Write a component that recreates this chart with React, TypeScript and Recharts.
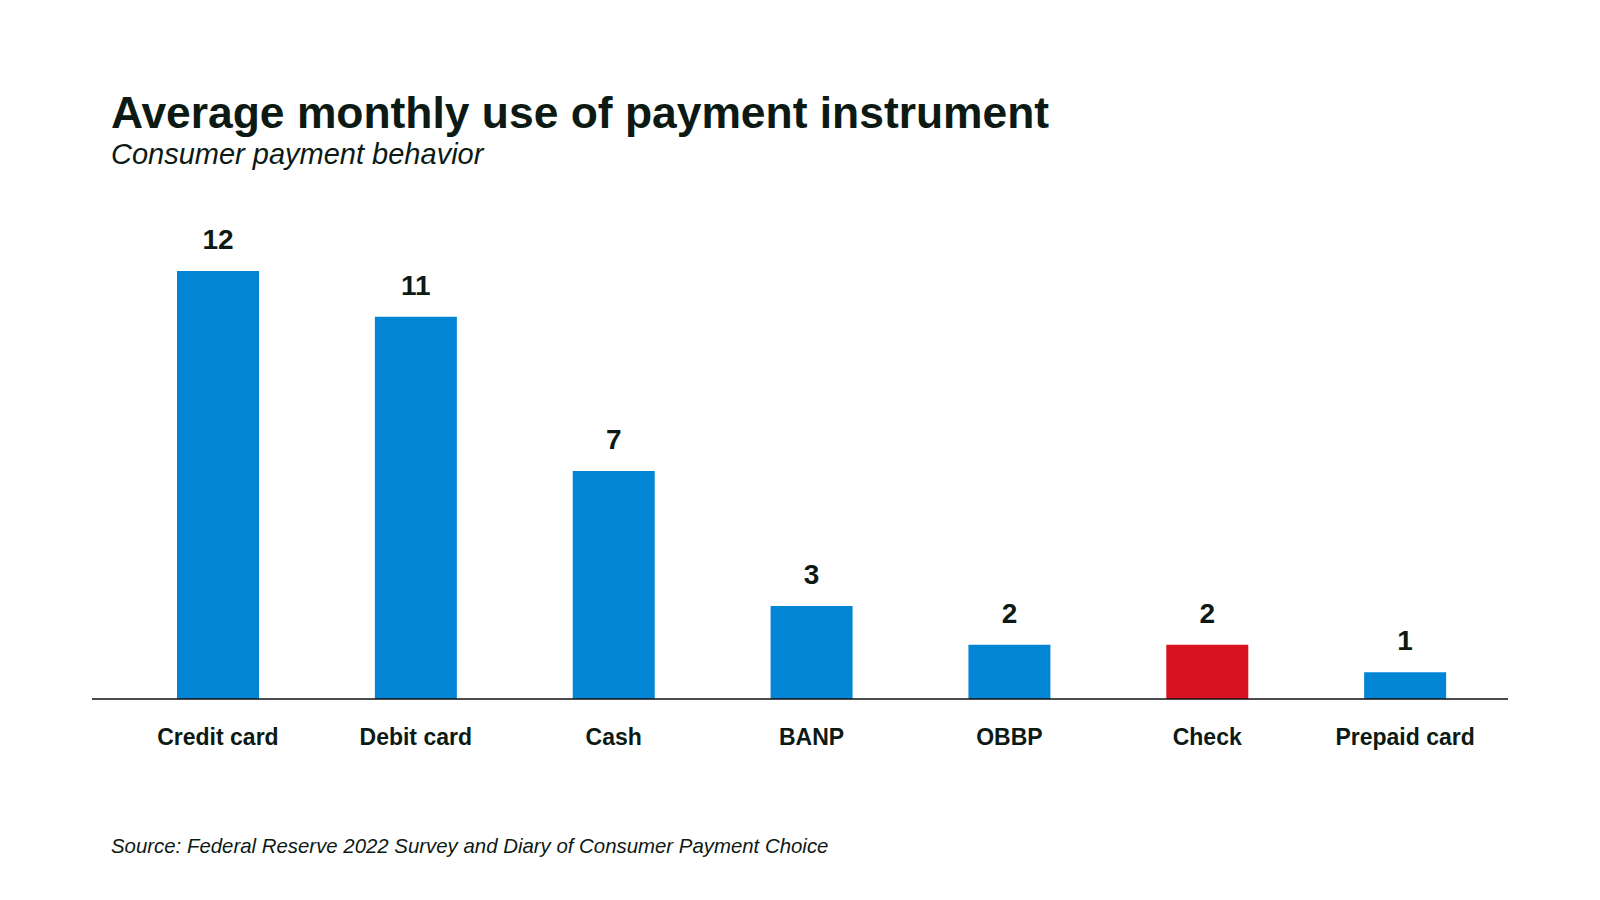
import { Bar, BarChart, Cell, LabelList, XAxis, YAxis } from "recharts";

const categories = ["Credit card", "Debit card", "Cash", "BANP", "OBBP", "Check", "Prepaid card"];
const monthlyUse = [12.2, 10.9, 6.5, 2.65, 1.55, 1.55, 0.76];
const highlighted = ["Check"];

const data = categories.map((name, i) => ({ name, value: monthlyUse[i] }));

const ink = "#0d1a14";
const font = "'Liberation Sans', Arial, sans-serif";

function CategoryTick({ x, y, payload }: any) {
  return (
    <text x={x} y={y} dy={46} textAnchor="middle" fontSize={23} fontWeight={700} fill={ink} fontFamily={font}>
      {payload.value}
    </text>
  );
}

export default function App() {
  return (
    <div style={{ position: "absolute", left: 0, top: 0, width: 1600, height: 900, background: "#fff", fontFamily: font, color: ink }}>
      <div style={{ position: "absolute", left: 111, top: 88, fontSize: 44.4, fontWeight: 700, whiteSpace: "nowrap", lineHeight: "normal" }}>
        Average monthly use of payment instrument
      </div>
      <div style={{ position: "absolute", left: 111, top: 138, fontSize: 29, fontStyle: "italic", whiteSpace: "nowrap" }}>
        Consumer payment behavior
      </div>
      <div style={{ position: "absolute", left: 111, top: 835, fontSize: 20.4, fontStyle: "italic", whiteSpace: "nowrap" }}>
        Source: Federal Reserve 2022 Survey and Diary of Consumer Payment Choice
      </div>
      <BarChart width={1600} height={900} data={data} margin={{ top: 243, right: 92, bottom: 0, left: 92 }} barSize={82}>
        <YAxis hide domain={[0, 13]} />
        <XAxis
          dataKey="name"
          height={201}
          interval={0}
          tickLine={false}
          tickSize={0}
          tickMargin={0}
          padding={{ left: 27, right: 4 }}
          axisLine={{ stroke: "#111", strokeWidth: 1.5 }}
          tick={<CategoryTick />}
        />
        <Bar dataKey="value" isAnimationActive={false}>
          {data.map((d) => (
            <Cell key={d.name} fill={highlighted.includes(d.name) ? "#d81320" : "#0285d5"} />
          ))}
          <LabelList
            dataKey="value"
            position="top"
            offset={22}
            formatter={(v: any) => Math.round(Number(v))}
            style={{ fontSize: 28, fontWeight: 700, fill: ink, fontFamily: font }}
          />
        </Bar>
      </BarChart>
    </div>
  );
}
